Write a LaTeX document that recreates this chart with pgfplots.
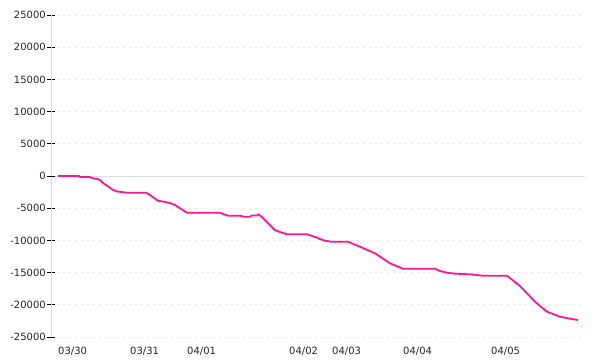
\documentclass[border=0pt]{standalone}
\usepackage{pgfplots}
\pgfplotsset{compat=1.18}
\usepackage{fontspec}
\setmainfont{DejaVu Sans}
\definecolor{linepink}{RGB}{255,20,147}
\definecolor{gridgray}{RGB}{230,230,230}
\definecolor{axgray}{RGB}{221,221,221}
\begin{document}
\begin{tikzpicture}
\useasboundingbox (0,0) rectangle (600pt,360pt);
\begin{axis}[
  at={(51pt,23pt)}, anchor=south west,
  scale only axis, width=534pt, height=322pt,
  xmin=51, xmax=585, ymin=-25000, ymax=25000,
  axis x line*=bottom, axis y line*=left,
  x axis line style={draw=none},
  y axis line style={draw=axgray, line width=0.8pt},
  ytick={-25000,-20000,...,25000},
  scaled y ticks=false,
  ymajorgrids,
  grid style={draw=gridgray, line width=0.8pt, dash pattern=on 2pt off 4pt},
  extra y ticks={0},
  extra y tick labels={},
  extra y tick style={grid style={draw=axgray, solid, line width=0.8pt}},
  tick align=center, major tick length=8pt,
  y tick style={black, line width=0.8pt},
  x tick style={draw=none},
  xtick={58,130,187,289,332,403,491},
  xticklabels={03/30,03/31,04/01,04/02,04/03,04/04,04/05},
  x tick label style={anchor=north west, inner sep=0pt, yshift=-6pt},
  y tick label style={anchor=east, inner sep=0pt, xshift=-1pt},
  tick label style={font=\fontsize{10pt}{12pt}\selectfont, text=black!85},
  /pgf/number format/assume math mode=true,
  /pgf/number format/1000 sep={},
  clip=false,
]
\addplot[linepink, line width=1.8pt, line join=round] coordinates {
(58,0)(79,0)(80,-155)(90,-155)(92,-310)(97,-450)(100,-620)(103,-1090)(108,-1600)
(113,-2170)(117,-2400)(127,-2590)(146,-2590)(150,-2950)(154,-3400)(158,-3840)
(164,-4000)(170,-4200)(175,-4500)(181,-5100)(187,-5700)(220,-5700)(224,-5950)
(228,-6165)(240,-6165)(244,-6320)(250,-6320)(252,-6130)(257,-6130)(259,-5950)
(267,-7150)(275,-8390)(280,-8700)(287,-9050)(307,-9050)(312,-9320)(316,-9500)
(320,-9800)(325,-10050)(331,-10200)(348,-10200)(354,-10600)(360,-10980)
(375,-12000)(390,-13560)(403,-14400)(435,-14400)(440,-14750)(447,-15020)
(455,-15170)(470,-15270)(483,-15480)(507,-15480)(510,-15840)(520,-17080)
(535,-19520)(547,-21070)(553,-21430)(560,-21850)(570,-22160)(578,-22360)
};
\end{axis}
\end{tikzpicture}
\end{document}
